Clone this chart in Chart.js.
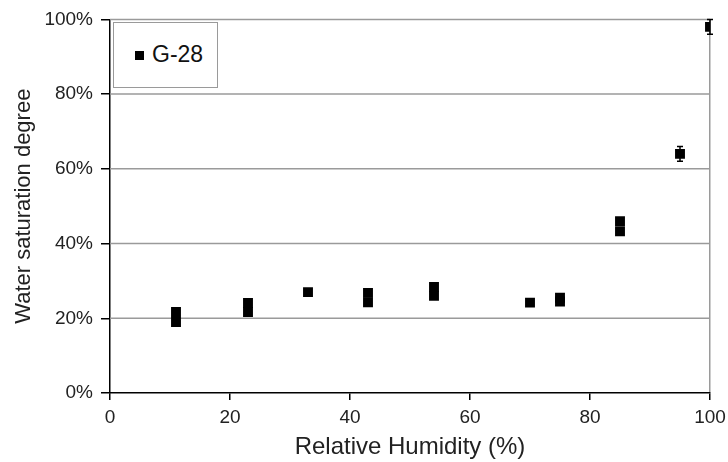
<!DOCTYPE html>
<html>
<head>
<meta charset="utf-8">
<script src="https://cdn.jsdelivr.net/npm/chart.js@4/dist/chart.umd.min.js"></script>
<style>
  html, body { margin: 0; padding: 0; background: #fff; }
  #wrap { position: relative; width: 728px; height: 462px; }
  #legendBox {
    position: absolute; left: 113px; top: 22px; width: 105px; height: 66px;
    border: 1px solid #9a9a9a; box-sizing: border-box; background: #fff;
    font-family: "Liberation Sans", Arial, sans-serif; font-size: 23px; color: #111;
  }
  #legendBox .mk { position: absolute; left: 21px; top: 28px; width: 9px; height: 9px; background: #000; }
  #legendBox .lb { position: absolute; left: 38px; top: 18px; }
</style>
</head>
<body>
<div id="wrap">
  <canvas id="chart" width="728" height="462"></canvas>
  <div id="legendBox"><span class="mk"></span><span class="lb">G-28</span></div>
</div>
<script>
// relative humidity (%) and water saturation degree (%)
var humidity   = [11, 11, 23, 23, 33, 43, 43, 54, 54, 70, 75, 75, 85, 85, 95, 100];
var saturation = [19, 21.7, 21.7, 24.1, 27, 24.3, 26.8, 26, 28.4, 24.2, 24.5, 25.5, 43.3, 46, 64, 98];
var errBar     = [0, 0, 0, 0, 0, 0, 0, 0, 0, 0, 0, 0, 0, 0, 2, 2];
var yTicks = [0, 20, 40, 60, 80, 100];
var xTicks = [0, 20, 40, 60, 80, 100];

var points = humidity.map(function (h, i) { return { x: h, y: saturation[i] }; });

// horizontal gridlines, kept between x = 0 and x = 100
var hGrid = {
  id: 'hGrid',
  beforeDatasetsDraw: function (chart) {
    var ctx = chart.ctx, xs = chart.scales.x, ys = chart.scales.y;
    var x0 = xs.getPixelForValue(xTicks[0]), x1 = xs.getPixelForValue(xTicks[xTicks.length - 1]);
    ctx.save();
    ctx.strokeStyle = '#9a9a9a';
    ctx.lineWidth = 1.5;
    yTicks.forEach(function (v) {
      if (v === 0) return;
      var py = ys.getPixelForValue(v);
      ctx.beginPath();
      ctx.moveTo(x0, py); ctx.lineTo(x1, py);
      ctx.stroke();
    });
    ctx.restore();
  }
};

var errorBars = {
  id: 'errorBars',
  afterDatasetsDraw: function (chart) {
    var ctx = chart.ctx, xs = chart.scales.x, ys = chart.scales.y;
    ctx.save();
    ctx.strokeStyle = '#000';
    ctx.lineWidth = 1.5;
    points.forEach(function (p, i) {
      if (!errBar[i]) return;
      var px = xs.getPixelForValue(p.x);
      var top = ys.getPixelForValue(p.y + errBar[i]);
      var bot = ys.getPixelForValue(p.y - errBar[i]);
      ctx.beginPath();
      ctx.moveTo(px, top); ctx.lineTo(px, bot);
      ctx.moveTo(px - 3, top); ctx.lineTo(px + 3, top);
      ctx.moveTo(px - 3, bot); ctx.lineTo(px + 3, bot);
      ctx.stroke();
    });
    ctx.restore();
  }
};

var font = "'Liberation Sans', Arial, sans-serif";

new Chart(document.getElementById('chart').getContext('2d'), {
  type: 'scatter',
  data: {
    datasets: [{
      label: 'G-28',
      data: points,
      pointStyle: 'rect',
      pointRadius: 7,
      pointHoverRadius: 7,
      backgroundColor: '#000',
      borderColor: '#000',
      borderWidth: 0
    }]
  },
  options: {
    responsive: false,
    animation: false,
    layout: { padding: { top: 19, right: 18, left: 0, bottom: 0 } },
    plugins: { legend: { display: false }, tooltip: { enabled: false } },
    scales: {
      x: {
        type: 'linear', min: 0, max: 100,
        afterBuildTicks: function (s) { s.ticks = xTicks.map(function (v) { return { value: v }; }); },
        afterFit: function (s) { s.height = 69; s.paddingRight = 0; },
        grid: {
          drawOnChartArea: true,
          color: function (c) { return c.tick && c.tick.value === 100 ? '#9a9a9a' : 'rgba(0,0,0,0)'; },
          tickColor: '#000',
          tickLength: 7,
          lineWidth: 1.5
        },
        border: { color: '#000', width: 1.5 },
        ticks: { color: '#222', font: { family: font, size: 19 }, padding: 6, maxRotation: 0 },
        title: { display: true, text: 'Relative Humidity (%)', color: '#222', font: { family: font, size: 24 }, padding: { top: 0, bottom: 0 } }
      },
      y: {
        type: 'linear', min: 0, max: 100,
        afterBuildTicks: function (s) { s.ticks = yTicks.map(function (v) { return { value: v }; }); },
        afterFit: function (s) { s.width = 110; },
        grid: { drawOnChartArea: false, color: '#000', tickColor: '#000', tickLength: 9, lineWidth: 1.5 },
        border: { color: '#000', width: 1.5 },
        ticks: {
          color: '#222', font: { family: font, size: 19 }, padding: 8,
          callback: function (v) { return v + '%'; }
        },
        title: { display: true, text: 'Water saturation degree', color: '#222', font: { family: font, size: 22 }, padding: { top: 11, bottom: 0 } }
      }
    }
  },
  plugins: [hGrid, errorBars]
});
</script>
</body>
</html>
